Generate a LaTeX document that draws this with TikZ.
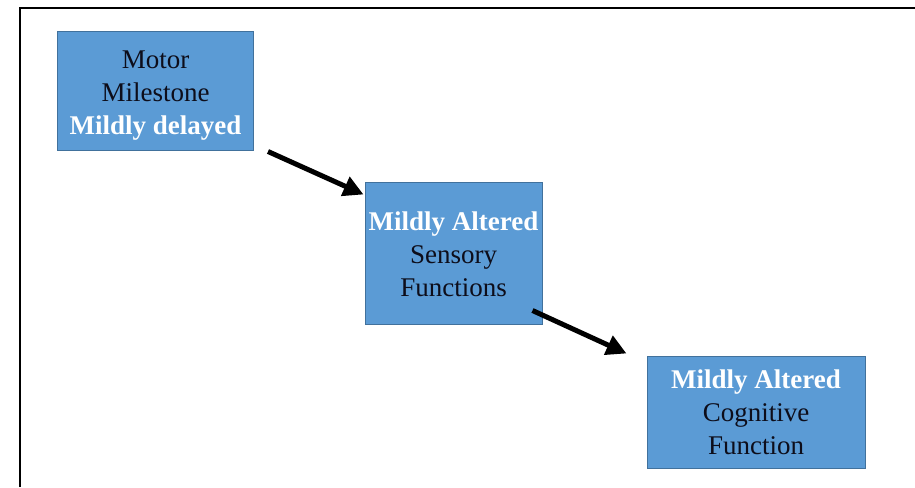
\documentclass[tikz,border=0pt]{standalone}
\usepackage{fontspec}
\setmainfont{LiberationSerif}[Extension=.ttf, UprightFont=*-Regular, BoldFont=*-Bold, ItalicFont=*-Italic, BoldItalicFont=*-BoldItalic]
\usetikzlibrary{arrows.meta}
\definecolor{boxfill}{HTML}{5B9BD5}
\definecolor{boxline}{HTML}{41719C}
\definecolor{txt}{HTML}{0D0D1A}
\begin{document}
\begin{tikzpicture}[x=1pt,y=-1pt,
  box/.style={draw=boxline, line width=1pt, fill=boxfill, inner sep=0pt},
  boxtext/.style={align=center, inner sep=0pt, font=\fontsize{27}{33}\selectfont, text=txt},
  conn/.style={line width=5pt, -{Triangle[length=20pt,width=20pt]}}]
\useasboundingbox (0,0) rectangle (915,487);
\draw[line width=2pt] (20,487) -- (20,8) -- (915,8);
\node[box, minimum width=196pt, minimum height=118pt] (m) at (155.5,91) {};
\node[boxtext] (mt) at (155.5,96)
  {Motor\\Milestone\\\textcolor{white}{\textbf{Mildly delayed}}};
\node[box, minimum width=177pt, minimum height=142pt] (s) at (453.5,253) {};
\node[boxtext] (st) at (453.5,254)
  {\textcolor{white}{\textbf{Mildly Altered}}\\Sensory\\Functions};
\node[box, minimum width=218pt, minimum height=112pt] (c) at (756,412) {};
\node[boxtext] (ct) at (756,412.5)
  {\textcolor{white}{\textbf{Mildly Altered}}\\Cognitive\\Function};
\draw[conn] ([shift={(14,1)}]m.south east) -- ([shift={(-1,13)}]s.north west);
\draw[conn] ([shift={(-10,-14)}]s.south east) -- ([shift={(-20,-2)}]c.north west);
\end{tikzpicture}
\end{document}
